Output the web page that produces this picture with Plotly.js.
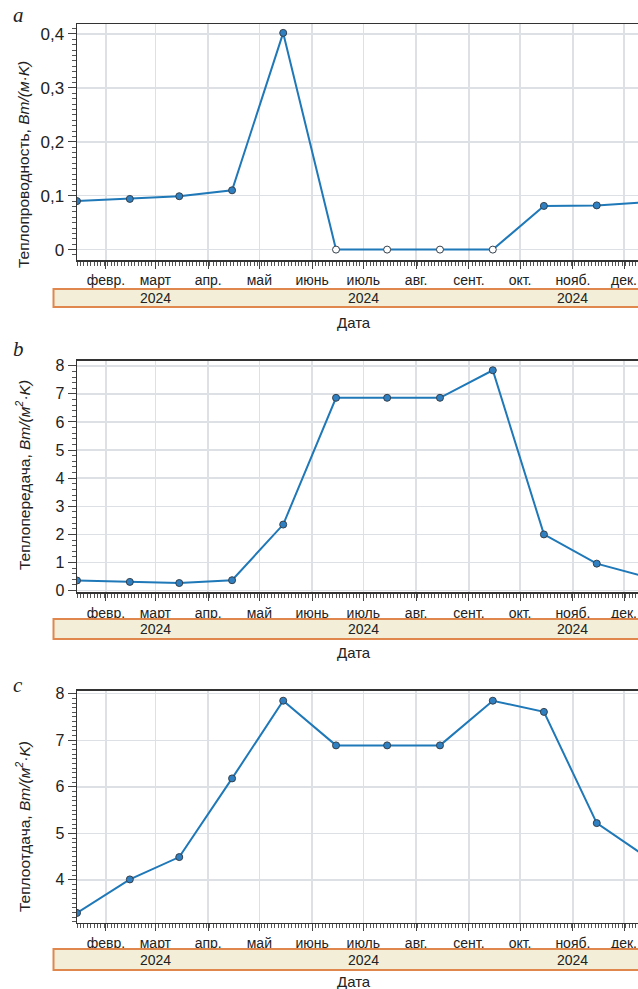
<!DOCTYPE html>
<html>
<head>
<meta charset="utf-8">
<script src="https://cdn.plot.ly/plotly-3.0.1.min.js"></script>
<style>
  html, body { margin: 0; padding: 0; background: #ffffff; }
  #chart { width: 638px; height: 989px; }
</style>
</head>
<body>
<div id="chart"></div>
<script>
// ---- data ----
const dates = ['2024-01-15', '2024-02-15', '2024-03-15', '2024-04-15', '2024-05-15', '2024-06-15',
               '2024-07-15', '2024-08-15', '2024-09-15', '2024-10-15', '2024-11-15', '2024-12-15'];
const conductivity = [0.090, 0.094, 0.099, 0.110, 0.402, 0, 0, 0, 0, 0.081, 0.082, 0.088];
const heatTransfer = [0.36, 0.31, 0.27, 0.37, 2.35, 6.86, 6.86, 6.86, 7.84, 2.00, 0.96, 0.47];
const heatEmission = [3.29, 4.01, 4.49, 6.18, 7.85, 6.89, 6.89, 6.89, 7.85, 7.61, 5.22, 4.47];
const monthTickDates = ['2024-02-01', '2024-03-01', '2024-04-01', '2024-05-01', '2024-06-01', '2024-07-01',
                        '2024-08-01', '2024-09-01', '2024-10-01', '2024-11-01', '2024-12-01'];
const monthLabels = ['февр.', 'март', 'апр.', 'май', 'июнь', 'июль', 'авг.', 'сент.', 'окт.', 'нояб.', 'дек.'];
const yearTickDates = ['2024-03-01', '2024-07-01', '2024-11-01'];
const yearLabels = ['2024', '2024', '2024'];
const panelLetters = ['a', 'b', 'c'];
const yTitles = ['Теплопроводность, <i>Вт/(м·K)</i>',
                 'Теплопередача, <i>Вт/(м<sup>2</sup>·K)</i>',
                 'Теплоотдача, <i>Вт/(м<sup>2</sup>·K)</i>'];
const xTitle = 'Дата';

// ---- layout helpers (pixel -> paper) ----
const W = 638, H = 989, L = 77, PW = W - L;
const py = y => 1 - y / H;
const px = x => (x - L) / PW;

const FONT = 'Liberation Sans, Arial, sans-serif';
const blue = '#1f78b8';

function trace(values, xa, ya) {
  return {
    x: dates, y: values, xaxis: xa, yaxis: ya,
    type: 'scatter', mode: 'lines+markers',
    line: { color: blue, width: 2 },
    marker: {
      size: 7,
      color: values.map(v => v === 0 ? '#ffffff' : '#2f80c2'),
      line: { color: '#34404c', width: 1 }
    },
    hoverinfo: 'x+y', showlegend: false
  };
}

function xAxis(anchor) {
  return {
    type: 'date', anchor: anchor,
    range: ['2024-01-15', '2024-12-09 05:00'],
    tickmode: 'array', tickvals: monthTickDates, ticktext: monthLabels,
    ticks: 'outside', ticklen: 7, tickcolor: '#444', tickwidth: 1,
    tickfont: { family: FONT, size: 14, color: '#222' },
    showgrid: true, gridcolor: '#dde1e6', gridwidth: 1.5,
    showline: true, linecolor: '#333', linewidth: 1.5, mirror: true,
    zeroline: false,
    minor: { tickmode: 'linear', tick0: '2024-01-01', dtick: 2 * 86400000,
             ticks: 'outside', ticklen: 4, tickcolor: '#555', showgrid: false },
    fixedrange: true
  };
}

function yAxis(anchor, domain, range, dtick, minorDtick, fsize) {
  return {
    anchor: anchor, domain: domain, range: range,
    tickmode: 'linear', tick0: 0, dtick: dtick,
    ticks: 'outside', ticklen: 8, tickcolor: '#444',
    tickfont: { family: FONT, size: fsize, color: '#222' },
    showgrid: true, gridcolor: '#dde1e6', gridwidth: 1.5,
    showline: true, linecolor: '#333', linewidth: 1.5,
    zeroline: false,
    minor: { tickmode: 'linear', tick0: 0, dtick: minorDtick,
             ticks: 'outside', ticklen: 4, tickcolor: '#555', showgrid: false },
    fixedrange: true
  };
}

// panel pixel geometry
const panels = [
  { top: 24,    bottom: 260,   bandTop: 289, bandBot: 307, letterY: 15,  titleY: 165, xtY: 322 },
  { top: 360.7, bottom: 592.3, bandTop: 619, bandBot: 639, letterY: 349, titleY: 475, xtY: 652 },
  { top: 690.7, bottom: 922.7, bandTop: 949, bandBot: 970, letterY: 685, titleY: 827, xtY: 981.5 }
];

const data = [
  trace(conductivity, 'x', 'y'),
  trace(heatTransfer, 'x2', 'y2'),
  trace(heatEmission, 'x3', 'y3')
];

const shapes = [];
const annotations = [];
const xrefs = ['x', 'x2', 'x3'];
panels.forEach((p, i) => {
  shapes.push({
    type: 'rect', xref: 'paper', yref: 'paper',
    x0: px(53.5), x1: px(642), y0: py(p.bandBot), y1: py(p.bandTop),
    line: { color: '#e0874e', width: 2 }, fillcolor: '#f2eed8', layer: 'above'
  });
  yearTickDates.forEach((d, k) => {
    annotations.push({
      xref: xrefs[i], yref: 'paper', x: d, y: py((p.bandTop + p.bandBot) / 2),
      text: yearLabels[k], showarrow: false, xanchor: 'center', yanchor: 'middle',
      font: { family: FONT, size: 14, color: '#222' }
    });
  });
  annotations.push({
    xref: 'paper', yref: 'paper', x: px(354), y: py(p.xtY),
    text: xTitle, showarrow: false, xanchor: 'center', yanchor: 'middle',
    font: { family: FONT, size: 15, color: '#222' }
  });
  annotations.push({
    xref: 'paper', yref: 'paper', x: px(23), y: py(p.titleY),
    text: yTitles[i], textangle: -90, showarrow: false, xanchor: 'center', yanchor: 'middle',
    font: { family: FONT, size: 15.5, color: '#222' }
  });
  annotations.push({
    xref: 'paper', yref: 'paper', x: px(18), y: py(p.letterY),
    text: '<i>' + panelLetters[i] + '</i>', showarrow: false, xanchor: 'center', yanchor: 'middle',
    font: { family: 'Liberation Serif, DejaVu Serif, serif', size: 21, color: '#222' }
  });
});

const layout = {
  width: W, height: H,
  margin: { l: L, r: 0, t: 0, b: 0, pad: 0 },
  paper_bgcolor: '#ffffff', plot_bgcolor: '#ffffff',
  separators: ',.',
  font: { family: FONT, color: '#222' },
  showlegend: false,
  xaxis: xAxis('y'),
  xaxis2: xAxis('y2'),
  xaxis3: xAxis('y3'),
  yaxis: yAxis('x', [py(panels[0].bottom), py(panels[0].top)], [-0.0193, 0.4185], 0.1, 0.01, 17),
  yaxis2: yAxis('x2', [py(panels[1].bottom), py(panels[1].top)], [-0.06, 8.18], 1, 0.2, 16),
  yaxis3: yAxis('x3', [py(panels[2].bottom), py(panels[2].top)], [3.08, 8.065], 1, 0.1, 16),
  shapes: shapes,
  annotations: annotations
};

Plotly.newPlot('chart', data, layout, { displayModeBar: false, staticPlot: true });
</script>
</body>
</html>
